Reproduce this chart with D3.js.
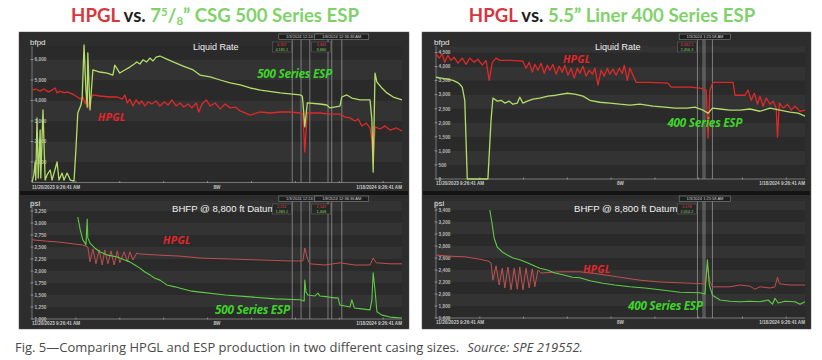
<!DOCTYPE html>
<html><head><meta charset="utf-8">
<script src="https://cdn.jsdelivr.net/npm/d3@7"></script>
<style>body{margin:0;background:#fff}</style>
</head><body>
<svg id="c" width="822" height="360" xmlns="http://www.w3.org/2000/svg"></svg>
<script>
// ---------------- DATA ----------------
const dayDomain = [0, 59];
const dateLabels = ["11/20/2023 9:26:41 AM", "8W", "1/18/2024 9:26:41 AM"];

const leftRateTicks = [1000, 2000, 3000, 4000, 5000, 6000];
const leftPsiTicks = [1000, 1250, 1500, 1750, 2000, 2250, 2500, 2750, 3000, 3250];
const rightRateTicks = [0, 500, 1000, 1500, 2000, 2500, 3000, 3500, 4000, 4500];
const rightPsiTicks = [1600, 1800, 2000, 2200, 2400, 2600, 2800, 3000, 3200, 3400];

// [day, bfpd]
const leftRateESP = [[0,20],[0.3,370],[0.5,1000],[0.6,120],[0.8,3150],[1.0,220],[1.3,2560],[1.4,220],[1.75,3540],[2.1,120],[2.4,370],[2.9,610],[3.2,120],[4.0,1000],[4.3,120],[4.8,460],[5.1,120],[5.6,460],[6.1,120],[6.7,70],[7.0,1590],[7.3,3390],[7.8,3780],[8.0,4120],[8.3,6710],[8.6,4510],[8.8,3680],[8.9,6320],[9.25,3540],[9.7,5490],[10.8,5390],[12.0,5340],[12.9,5240],[13.2,5730],[14.0,5340],[14.8,5490],[15.6,5630],[16.3,5780],[16.7,5880],[17.2,5780],[17.7,5980],[18.3,5880],[18.8,6070],[19.3,5930],[19.8,6120],[20.4,6170],[21.4,6030],[22.5,5880],[24.1,5680],[25.7,5490],[26.8,5240],[28.4,5150],[30.0,5000],[31.6,4860],[33.2,4760],[34.8,4610],[36.4,4510],[39.6,4370],[42.7,4270],[43.1,4220],[43.2,3930],[43.5,2710],[43.9,3880],[45.9,3830],[47.0,3780],[47.5,3640],[49.1,3730],[49.4,4170],[50.2,4270],[51.0,4120],[52.3,4030],[53.9,4030],[54.2,3050],[54.4,510],[54.7,5340],[55.0,4900],[55.8,4610],[56.6,4370],[57.6,4170],[59.0,4030]];
const leftRateHPGL = [[0,4510],[0.6,4560],[1.3,4460],[1.9,4560],[2.6,4420],[3.2,4510],[3.7,4610],[4.0,4370],[4.5,4460],[5.1,4370],[5.6,4420],[6.4,4320],[7.0,4220],[7.7,4070],[8.1,4170],[8.5,3830],[8.8,4270],[8.9,3640],[9.25,4030],[9.7,4270],[10.8,4220],[12.4,4170],[13.6,4170],[14.4,4070],[14.8,4270],[15.2,3880],[15.6,4070],[16.1,3730],[16.6,4030],[17.1,3830],[17.5,3980],[18.0,3730],[18.5,3930],[19.1,3830],[19.8,3980],[20.4,3730],[21.1,3930],[21.7,3780],[22.3,4030],[23.0,3730],[23.6,3880],[24.2,3680],[24.9,3830],[25.5,3640],[26.2,3880],[26.6,3440],[27.1,3830],[27.8,4030],[28.4,3730],[29.2,3880],[30.0,3590],[30.8,3830],[31.6,3640],[32.4,3680],[33.2,3490],[34.8,3290],[36.4,3440],[38.0,3390],[39.6,3440],[41.1,3440],[42.7,3390],[43.2,3340],[43.5,1490],[43.9,3390],[45.9,3390],[47.5,3340],[49.1,3340],[49.9,3200],[50.7,3150],[51.5,3000],[52.0,3100],[52.6,2760],[53.3,2900],[53.9,2660],[54.2,2070],[54.4,950],[54.7,2710],[55.5,2610],[56.3,2760],[57.1,2560],[58.1,2660],[59.0,2510]];

// [day, psi]
const leftPsiESP = [[7.3,3125],[7.7,2850],[8.1,2650],[8.45,2580],[8.6,2540],[8.8,3080],[8.9,2690],[9.25,2580],[10.0,2480],[10.8,2400],[12.1,2330],[13.6,2290],[14.8,2230],[15.6,2190],[16.4,2125],[17.2,2060],[18.0,1980],[18.8,1920],[19.6,1850],[20.4,1810],[21.5,1710],[22.8,1670],[24.1,1625],[25.5,1580],[26.8,1560],[30.8,1500],[34.8,1460],[38.8,1420],[42.7,1400],[43.4,1375],[43.5,1810],[43.7,1560],[44.0,1500],[45.1,1480],[45.6,1540],[45.9,1480],[47.2,1460],[48.2,1440],[48.8,1440],[49.1,1290],[49.9,1270],[50.7,1250],[51.0,1400],[51.4,1230],[52.6,1210],[53.9,1190],[54.2,1400],[54.4,1960],[54.7,1600],[55.0,1150],[55.8,1080],[57.1,1040],[59.0,1020]];
const leftPsiHPGL = [[0,2650],[2.1,2625],[4.5,2600],[6.9,2560],[8.1,2540],[8.9,2500],[9.25,2190],[9.7,2460],[10.2,2150],[10.7,2440],[11.2,2125],[11.6,2440],[12.1,2150],[12.6,2420],[13.1,2125],[13.6,2420],[14.0,2170],[14.7,2400],[15.2,2190],[15.6,2400],[16.1,2230],[16.7,2375],[17.2,2355],[20.4,2330],[23.6,2310],[26.8,2270],[31.6,2250],[36.4,2230],[41.1,2210],[43.2,2210],[43.5,2480],[43.9,2270],[44.3,2150],[46.7,2125],[49.1,2170],[51.5,2125],[53.9,2125],[54.4,2270],[54.9,2170],[57.1,2150],[59.0,2150]];

const rightRateHPGL = [[0,4470],[0.5,4300],[1.0,4440],[1.4,4150],[1.9,4400],[2.4,4220],[2.9,4330],[3.5,4120],[4.2,4300],[4.8,4080],[5.4,4300],[6.1,4150],[6.7,4260],[7.4,4050],[8.0,4220],[8.5,3510],[9.0,4150],[9.6,4300],[10.2,4220],[11.8,4220],[13.9,4190],[14.4,3940],[14.9,4150],[15.4,3800],[15.8,4080],[16.3,3870],[16.8,4120],[17.3,3760],[17.8,4050],[18.2,3870],[18.7,4080],[19.2,3730],[19.7,4010],[20.2,3800],[20.6,4050],[21.1,3690],[21.6,3940],[22.1,3590],[22.6,3940],[23.0,3760],[23.5,4010],[24.0,3660],[24.5,3870],[25.0,3730],[25.4,3940],[25.9,3340],[26.4,3870],[26.9,3660],[27.4,3940],[27.8,3730],[28.3,3910],[28.8,3690],[29.3,3940],[29.8,3760],[30.1,4050],[30.6,3510],[31.0,3940],[31.5,3690],[32.0,3440],[34.2,3440],[37.1,3410],[37.6,3270],[40.6,3270],[42.2,3230],[43.2,3160],[43.5,1460],[43.8,3160],[44.3,3440],[47.5,3440],[47.8,2980],[49.4,2980],[49.9,3160],[50.4,2800],[50.9,3050],[51.4,2660],[51.8,2950],[52.3,2590],[52.8,2880],[53.4,2660],[53.9,2770],[54.4,2520],[54.6,1490],[54.9,2700],[55.5,2520],[56.2,2660],[56.8,2450],[57.4,2590],[58.2,2410],[59.0,2450]];
const rightRateESP = [[0,3620],[0.8,3590],[1.8,3550],[2.7,3510],[3.4,3440],[3.8,3370],[4.2,3270],[4.6,2800],[5.0,0],[8.3,0],[8.8,2090],[9.1,2880],[9.8,2770],[10.4,2800],[11.0,2700],[11.7,2770],[12.3,2660],[13.0,2700],[13.4,2910],[13.9,2700],[14.6,2770],[15.5,2840],[16.6,2880],[17.9,2950],[19.2,2980],[21.0,3050],[22.2,3020],[23.5,2950],[24.6,2800],[26.2,2730],[27.8,2700],[29.4,2660],[31.0,2630],[32.6,2660],[34.7,2590],[36.6,2560],[38.2,2520],[40.2,2520],[41.4,2560],[42.7,2450],[43.5,2340],[44.2,2520],[45.4,2490],[47.0,2450],[48.6,2450],[50.2,2490],[51.8,2410],[53.4,2520],[55.0,2450],[56.6,2380],[57.9,2340],[59.0,2240]];

const rightPsiESP = [[8.6,3400],[9.0,3150],[9.3,2930],[9.8,2780],[10.6,2700],[11.4,2650],[12.3,2600],[13.4,2570],[14.6,2520],[15.5,2480],[16.6,2430],[17.8,2400],[19.0,2350],[20.3,2320],[21.8,2280],[23.0,2270],[24.6,2220],[26.7,2180],[28.6,2150],[31.0,2120],[33.4,2100],[35.8,2070],[39.0,2030],[42.2,2020],[43.0,2000],[43.4,2570],[43.7,2150],[44.2,1980],[45.4,1900],[47.0,1880],[48.6,1870],[50.2,1880],[51.8,1870],[53.1,1900],[53.8,1830],[54.2,1930],[54.7,1850],[55.8,1880],[57.4,1870],[58.2,1830],[59.0,1870]];
const rightPsiHPGL = [[0,2650],[2.2,2630],[4.6,2620],[7.0,2580],[8.3,2550],[8.8,2520],[9.1,2230],[9.6,2470],[10.1,2150],[10.6,2430],[11.0,2100],[11.5,2450],[12.0,2070],[12.5,2430],[13.0,2080],[13.4,2450],[13.9,2070],[14.4,2430],[14.9,2100],[15.4,2420],[15.8,2120],[16.3,2400],[16.8,2350],[19.8,2370],[23.0,2370],[26.2,2330],[29.4,2280],[32.6,2230],[35.8,2200],[40.6,2180],[43.0,2170],[43.4,2480],[43.7,2230],[44.2,2120],[47.0,2120],[48.6,2150],[50.2,2130],[51.0,2080],[51.8,2120],[53.4,2100],[54.2,2120],[54.6,2280],[54.9,2170],[56.6,2150],[59.0,2150]];

// cursor lines (day)
const leftCursors = [41.5, 42.9, 44.3, 47.2, 47.8, 49.4];
const rightCursors = [41.8, 42.7, 43.0, 44.2];
// tooltip texts
const leftTipDates = ["1/3/2024 12:24:3", "1/8/2024 12:36:36 AM"];
const leftTipRate = [["4,327", "4,185.1"], ["3,345", "3,680"]];
const leftTipPsi = [["2,212", "1,383.2"], ["2,142", "1,408"]];
const rightTipDates = ["1/3/2024 1:25:58 AM"];
const rightTipRate = [["3,162.1", "2,456.3"]];
const rightTipPsi = [["2,178", "2,014.2"]];

// series labels: [text, day, value]
const leftRateLabels = [["HPGL", 10.5, 3000], ["500 Series ESP", 35.9, 5100]];
const leftPsiLabels = [["HPGL", 20.9, 2560], ["500 Series ESP", 29.2, 1104]];
const rightRateLabels = [["HPGL", 20.3, 4118], ["400 Series ESP", 37.0, 1846]];
const rightPsiLabels = [["HPGL", 23.5, 2350], ["400 Series ESP", 30.7, 1733]];

// ---------------- DRAW ----------------
const svg = d3.select("#c");
const RED = "#dd2a28", ESPY = "#b4dc68", ESPG = "#5ccc44", REDB = "#c0504e";
const LBLG = "#3fd32a", LBLR = "#e3262a";

function fmt(v) { return d3.format(",")(v); }

function drawSub(cfg) {
  const g = svg.append("g");
  const x = d3.scaleLinear().domain(dayDomain).range(cfg.xr);
  const y = d3.scaleLinear().domain(cfg.yd).range(cfg.yr);
  g.append("rect").attr("x", cfg.box[0]).attr("y", cfg.box[1]).attr("width", cfg.box[2]).attr("height", cfg.box[3])
    .attr("fill", "#2d2d2d");
  const bottom = cfg.yr[0];
  const ticks = cfg.ticks;
  const edges = [bottom].concat(ticks.map(t => y(t)).filter(v => v < bottom - 0.5)).concat([cfg.top]);
  for (let i = 0; i < edges.length - 1; i++) {
    const y1 = Math.max(edges[i + 1], cfg.top);
    const y0 = edges[i];
    if (y0 <= y1) continue;
    g.append("rect").attr("x", cfg.xr[0]).attr("y", y1).attr("width", cfg.xr[1] - cfg.xr[0]).attr("height", y0 - y1)
      .attr("fill", i % 2 ? "#333333" : "#2a2a2a");
  }
  g.append("line").attr("x1", cfg.xr[0]).attr("x2", cfg.xr[0]).attr("y1", cfg.top).attr("y2", bottom).attr("stroke", "#8a8a8a").attr("stroke-width", 0.8);
  g.append("line").attr("x1", cfg.xr[0]).attr("x2", cfg.xr[1]).attr("y1", bottom).attr("y2", bottom).attr("stroke", "#8a8a8a").attr("stroke-width", 0.8);
  ticks.forEach(t => {
    const ty = y(t);
    g.append("line").attr("x1", cfg.xr[0] - 1.5).attr("x2", cfg.xr[0] + 1.5).attr("y1", ty).attr("y2", ty).attr("stroke", "#aaa").attr("stroke-width", 0.7);
    g.append("text").attr("x", cfg.xr[0] + 2.5).attr("y", ty + 1.8).text(fmt(t))
      .attr("font-family", "Liberation Sans, Arial, sans-serif").attr("font-size", 4.8).attr("fill", "#b5b5b5").attr("font-weight", "bold");
  });
  d3.range(7, 59, 7).forEach(d => {
    g.append("line").attr("x1", x(d)).attr("x2", x(d)).attr("y1", bottom - 1.5).attr("y2", bottom + 0.5).attr("stroke", "#aaa").attr("stroke-width", 0.7);
  });
  const xl = [[dateLabels[0], cfg.xr[0], "start"], [dateLabels[1], (cfg.xr[0] + cfg.xr[1]) / 2, "middle"], [dateLabels[2], cfg.xr[1], "end"]];
  xl.forEach(l => g.append("text").attr("x", l[1]).attr("y", bottom + 6).attr("text-anchor", l[2]).text(l[0])
    .attr("font-family", "Liberation Sans, Arial, sans-serif").attr("font-size", 4.6).attr("fill", "#c8c8c8").attr("font-weight", "bold"));
  g.append("text").attr("x", cfg.xr[0] - 2).attr("y", cfg.unitY).text(cfg.unit)
    .attr("font-family", "Liberation Sans, Arial, sans-serif").attr("font-size", 8).attr("fill", "#e6e6e6");
  g.append("text").attr("x", cfg.titleX).attr("y", cfg.titleY).text(cfg.title)
    .attr("font-family", "Liberation Sans, Arial, sans-serif").attr("font-size", cfg.titleSize).attr("fill", "#f0f0f0");
  cfg.cursors.forEach(c => {
    g.append("line").attr("x1", x(c)).attr("x2", x(c)).attr("y1", cfg.box[1] + 1).attr("y2", bottom)
      .attr("stroke", "#d0d0d0").attr("stroke-opacity", 0.55).attr("stroke-width", 0.9);
  });
  const line = d3.line().x(d => x(d[0])).y(d => y(d[1]));
  cfg.series.forEach(s => {
    g.append("path").datum(s.data).attr("d", line).attr("fill", "none")
      .attr("stroke", s.color).attr("stroke-width", s.w).attr("stroke-linejoin", "round");
  });
  cfg.tips.forEach((t, i) => {
    const cx = x(cfg.tipAnchors[i]);
    const w = t.length * 2.4 + 6;
    g.append("rect").attr("x", cx - w / 2).attr("y", cfg.box[1] + 1).attr("width", w).attr("height", 5.5)
      .attr("fill", "#1e1e1e").attr("stroke", "#9a9a9a").attr("stroke-width", 0.5);
    g.append("text").attr("x", cx).attr("y", cfg.box[1] + 5.3).attr("text-anchor", "middle").text(t)
      .attr("font-family", "Liberation Sans, Arial, sans-serif").attr("font-size", 4).attr("fill", "#cfcfcf");
  });
  cfg.vals.forEach((v, i) => {
    const rx = x(cfg.valAnchors[i]);
    const w = 19;
    g.append("rect").attr("x", rx - w - 1).attr("y", cfg.box[1] + 9).attr("width", w).attr("height", 10)
      .attr("fill", "#262626").attr("stroke", "#6a6a6a").attr("stroke-width", 0.5);
    g.append("text").attr("x", rx - w / 2 - 1).attr("y", cfg.box[1] + 13.2).attr("text-anchor", "middle").text(v[0])
      .attr("font-family", "Liberation Sans, Arial, sans-serif").attr("font-size", 3.8).attr("fill", "#e04040");
    g.append("text").attr("x", rx - w / 2 - 1).attr("y", cfg.box[1] + 17.8).attr("text-anchor", "middle").text(v[1])
      .attr("font-family", "Liberation Sans, Arial, sans-serif").attr("font-size", 3.8).attr("fill", "#7ad85a");
  });
  cfg.labels.forEach(l => {
    g.append("text").attr("x", x(l[1])).attr("y", y(l[2])).text(l[0])
      .attr("font-family", "Open Sans, Lato, sans-serif").attr("font-style", "italic").attr("font-weight", 700)
      .attr("font-size", l[0] === "HPGL" ? 10.5 : 11.8).attr("fill", l[0] === "HPGL" ? LBLR : LBLG)
      .attr("letter-spacing", l[0] === "HPGL" ? 0.3 : -0.3);
  });
}

function drawPanel(p) {
  svg.append("rect").attr("x", p.outer[0]).attr("y", p.outer[1]).attr("width", p.outer[2]).attr("height", p.outer[3])
    .attr("fill", "#141414").attr("stroke", "#7a7a7a").attr("stroke-width", 0.6);
  p.subs.forEach(drawSub);
}

drawPanel({
  outer: [19, 32, 390, 297],
  subs: [
    { box: [20, 33, 388, 158], xr: [32, 402], yd: [0, 6000], yr: [182.5, 59.5], top: 46, ticks: leftRateTicks,
      unit: "bfpd", unitY: 45, title: "Liquid Rate", titleX: 193, titleY: 50, titleSize: 9,
      cursors: leftCursors, tips: leftTipDates, tipAnchors: [42.9, 49.4], vals: leftTipRate, valAnchors: [41.5, 47.8],
      series: [{ data: leftRateHPGL, color: RED, w: 1.3 }, { data: leftRateESP, color: ESPY, w: 1.3 }],
      labels: leftRateLabels },
    { box: [20, 195, 388, 133], xr: [32, 402], yd: [1000, 3250], yr: [319, 211], top: 201, ticks: leftPsiTicks,
      unit: "psi", unitY: 206, title: "BHFP @ 8,800 ft Datum", titleX: 172, titleY: 212, titleSize: 9.6,
      cursors: leftCursors, tips: leftTipDates, tipAnchors: [42.9, 49.4], vals: leftTipPsi, valAnchors: [41.5, 47.8],
      series: [{ data: leftPsiHPGL, color: REDB, w: 1 }, { data: leftPsiESP, color: ESPG, w: 1.1 }],
      labels: leftPsiLabels }
  ]
});
drawPanel({
  outer: [422, 32, 389, 297],
  subs: [
    { box: [423, 33, 387, 158], xr: [436, 805], yd: [0, 4500], yr: [179, 52.5], top: 46, ticks: rightRateTicks,
      unit: "bfpd", unitY: 45, title: "Liquid Rate", titleX: 595, titleY: 50, titleSize: 9,
      cursors: rightCursors, tips: rightTipDates, tipAnchors: [43.0], vals: rightTipRate, valAnchors: [41.8],
      series: [{ data: rightRateHPGL, color: RED, w: 1.3 }, { data: rightRateESP, color: ESPY, w: 1.3 }],
      labels: rightRateLabels },
    { box: [423, 195, 387, 133], xr: [436, 805], yd: [1600, 3400], yr: [318, 210], top: 201, ticks: rightPsiTicks,
      unit: "psi", unitY: 206, title: "BHFP @ 8,800 ft Datum", titleX: 574, titleY: 212, titleSize: 9.6,
      cursors: rightCursors, tips: rightTipDates, tipAnchors: [43.0], vals: rightTipPsi, valAnchors: [41.8],
      series: [{ data: rightPsiHPGL, color: REDB, w: 1 }, { data: rightPsiESP, color: ESPG, w: 1.1 }],
      labels: rightPsiLabels }
  ]
});

// Titles
const TFONT = "Lato, 'Open Sans', sans-serif";
const TRED = "#d8363c", TGRN = "#7fd26a", TDARK = "#1f1f1f";
const TS = 18.6;
const t1 = svg.append("text").attr("x", 215).attr("y", 22).attr("text-anchor", "middle")
  .attr("font-family", TFONT).attr("font-weight", 700).attr("font-size", TS);
t1.append("tspan").attr("fill", TRED).text("HPGL");
t1.append("tspan").attr("fill", TDARK).text(" vs. ");
t1.append("tspan").attr("fill", TGRN).text("7");
t1.append("tspan").attr("fill", TGRN).attr("font-size", 11.5).attr("dy", -6).text("5");
t1.append("tspan").attr("fill", TGRN).attr("dy", 6).text("/");
t1.append("tspan").attr("fill", TGRN).attr("font-size", 11.5).attr("dy", 3).text("8");
t1.append("tspan").attr("fill", TGRN).attr("dy", -3).text("” CSG 500 Series ESP");

const t2 = svg.append("text").attr("x", 612).attr("y", 22).attr("text-anchor", "middle")
  .attr("font-family", TFONT).attr("font-weight", 700).attr("font-size", TS);
t2.append("tspan").attr("fill", TRED).text("HPGL");
t2.append("tspan").attr("fill", TDARK).text(" vs. ");
t2.append("tspan").attr("fill", TGRN).text("5.5” Liner 400 Series ESP");

// Caption
const cap = svg.append("text").attr("x", 15).attr("y", 352)
  .attr("font-family", "'Open Sans', sans-serif").attr("font-size", 13).attr("fill", "#4a4a4a");
cap.append("tspan").text("Fig. 5—Comparing HPGL and ESP production in two different casing sizes.");
cap.append("tspan").attr("dx", 8).attr("font-style", "italic").text("Source: SPE 219552.");
</script>
</body></html>
